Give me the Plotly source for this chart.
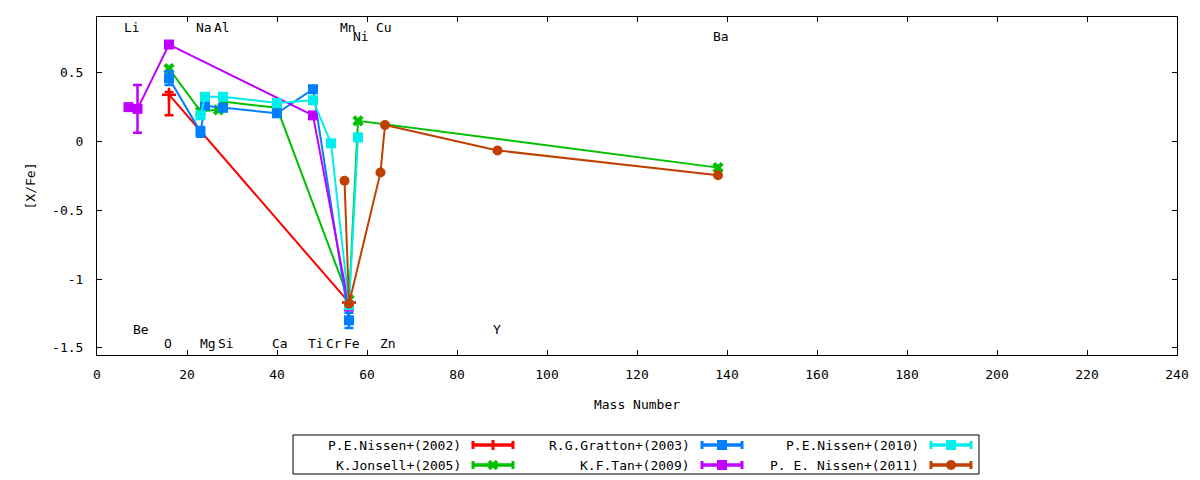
import plotly.graph_objects as go

# element labels (mass number of the main isotope) and the row they sit on
elem_names = ["Li", "Be", "O", "Na", "Mg", "Al", "Si", "Ca", "Ti", "Cr", "Mn", "Fe", "Ni", "Cu", "Zn", "Y", "Ba"]
elem_mass = [7, 9, 16, 23, 24, 27, 28, 40, 48, 52, 55, 56, 58, 63, 64, 89, 138]
elem_row_y = [0.83, -1.37, -1.47, 0.83, -1.47, 0.83, -1.47, -1.47, -1.47, -1.47, 0.83, -1.47, 0.76, 0.83, -1.47, -1.37, 0.76]

# P.E.Nissen+(2002)
nissen02_x = [16, 56]
nissen02_y = [0.34, -1.17]
nissen02_eplus = [0.02, 0]
nissen02_eminus = [0.15, 0]

# K.Jonsell+(2005)
jonsell05_x = [16, 23, 27, 28, 40, 56, 58, 138]
jonsell05_y = [0.53, 0.22, 0.23, 0.29, 0.245, -1.15, 0.15, -0.19]

# R.G.Gratton+(2003)
gratton03_x = [16, 23, 24, 28, 40, 48, 56]
gratton03_y = [0.46, 0.07, 0.26, 0.245, 0.205, 0.38, -1.30]
gratton03_err = [0.05, 0.035, 0, 0, 0, 0, 0.055]

# K.F.Tan+(2009)
tan09_x = [7, 9, 16, 48, 56]
tan09_y = [0.25, 0.237, 0.705, 0.19, -1.20]
tan09_err = [0, 0.173, 0, 0, 0]

# P.E.Nissen+(2010)
nissen10_x = [23, 24, 28, 40, 48, 52, 56, 58]
nissen10_y = [0.19, 0.325, 0.325, 0.28, 0.30, -0.013, -1.19, 0.03]

# P. E. Nissen+(2011)
nissen11_x = [55, 56, 63, 64, 89, 138]
nissen11_y = [-0.285, -1.18, -0.225, 0.12, -0.065, -0.245]

y_tick_vals = [-1.5, -1, -0.5, 0, 0.5]
y_tick_text = ["-1.5", "-1", "-0.5", "0", "0.5"]

FONT = "DejaVu Sans Mono"
RED, GREEN, BLUE, PURPLE, CYAN, BROWN = "#ff0000", "#00c000", "#0080ff", "#c000ff", "#00eeee", "#c04000"

fig = go.Figure()


def err(arr, color, minus=None):
    d = dict(type="data", array=arr, color=color, thickness=2.5, width=4.5, visible=True)
    if minus is not None:
        d["symmetric"] = False
        d["arrayminus"] = minus
    return d


fig.add_trace(go.Scatter(x=nissen02_x, y=nissen02_y, mode="lines+markers",
                         line=dict(color=RED, width=2),
                         marker=dict(symbol="cross-thin", size=10, line=dict(color=RED, width=2.5)),
                         error_y=err(nissen02_eplus, RED, nissen02_eminus)))
fig.add_trace(go.Scatter(x=jonsell05_x, y=jonsell05_y, mode="lines+markers",
                         line=dict(color=GREEN, width=2),
                         marker=dict(symbol="x", size=10, color=GREEN)))
fig.add_trace(go.Scatter(x=gratton03_x, y=gratton03_y, mode="lines+markers",
                         line=dict(color=BLUE, width=2),
                         marker=dict(symbol="square", size=10, color=BLUE),
                         error_y=err(gratton03_err, BLUE)))
fig.add_trace(go.Scatter(x=tan09_x, y=tan09_y, mode="lines+markers",
                         line=dict(color=PURPLE, width=2),
                         marker=dict(symbol="square", size=10, color=PURPLE),
                         error_y=err(tan09_err, PURPLE)))
fig.add_trace(go.Scatter(x=nissen10_x, y=nissen10_y, mode="lines+markers",
                         line=dict(color=CYAN, width=2),
                         marker=dict(symbol="square", size=10, color=CYAN)))
fig.add_trace(go.Scatter(x=nissen11_x, y=nissen11_y, mode="lines+markers",
                         line=dict(color=BROWN, width=2),
                         marker=dict(symbol="circle", size=10, color=BROWN)))

# element name labels
for name, m, yy in zip(elem_names, elem_mass, elem_row_y):
    fig.add_annotation(x=m, y=yy, text=name, showarrow=False, xanchor="left", yanchor="middle",
                       xshift=-7, font=dict(family=FONT, size=13, color="black"))

# page has an 8px body margin, so the figure box starts at (8, 8)
OFF = 8
L, R, T, B = 97, 1177, 17, 355  # plot area in window pixels


def px(p):
    return (p - L) / (R - L)


def py(p):
    return (B - p) / (B - T)


key_names = ["P.E.Nissen+(2002)", "K.Jonsell+(2005)", "R.G.Gratton+(2003)",
             "K.F.Tan+(2009)", "P.E.Nissen+(2010)", "P. E. Nissen+(2011)"]
key_colors = [RED, GREEN, BLUE, PURPLE, CYAN, BROWN]
key_marks = ["plus", "x", "square", "square", "square", "circle"]

shapes = [dict(type="rect", xref="paper", yref="paper", x0=px(293), x1=px(979), y0=py(435), y1=py(474),
               line=dict(color="black", width=1), fillcolor="rgba(0,0,0,0)")]
for i, (nm, col, mk) in enumerate(zip(key_names, key_colors, key_marks)):
    c, r = i // 2, i % 2
    ty = 445 + 20 * r
    tx = 463 + 229 * c
    s0, s1 = tx + 9, tx + 51
    mid = (s0 + s1) / 2
    fig.add_annotation(xref="paper", yref="paper", x=px(tx), y=py(ty), text=nm, showarrow=False,
                       xanchor="right", yanchor="middle", font=dict(family=FONT, size=13, color="black"))
    ln = dict(color=col, width=3.5)
    shapes.append(dict(type="line", xref="paper", yref="paper", x0=px(s0), x1=px(s1), y0=py(ty), y1=py(ty), line=ln))
    for sx in (s0 + 1, s1 - 1):
        shapes.append(dict(type="line", xref="paper", yref="paper", x0=px(sx), x1=px(sx),
                           y0=py(ty - 4), y1=py(ty + 4), line=dict(color=col, width=3)))
    if mk == "plus":
        shapes.append(dict(type="line", xref="paper", yref="paper", x0=px(mid), x1=px(mid),
                           y0=py(ty - 5), y1=py(ty + 5), line=dict(color=col, width=3)))
    elif mk == "x":
        for d in (1, -1):
            shapes.append(dict(type="line", xref="paper", yref="paper", x0=px(mid - 4), x1=px(mid + 4),
                               y0=py(ty - 4 * d), y1=py(ty + 4 * d), line=dict(color=col, width=3.5)))
    else:
        shapes.append(dict(type="rect" if mk == "square" else "circle", xref="paper", yref="paper",
                           x0=px(mid - 5), x1=px(mid + 5), y0=py(ty - 5), y1=py(ty + 5),
                           line=dict(color=col, width=0), fillcolor=col))

axis_common = dict(showline=True, linecolor="black", linewidth=1, mirror="allticks", ticks="inside",
                   ticklen=5, tickcolor="black", showgrid=False, zeroline=False,
                   tickfont=dict(family=FONT, size=13, color="black"))

W, H = 1200, 480
fig.update_layout(
    width=W, height=H,
    margin=dict(l=L - OFF, r=W + OFF - R, t=T - OFF, b=H + OFF - B),
    paper_bgcolor="white", plot_bgcolor="white",
    showlegend=False,
    font=dict(family=FONT, size=13, color="black"),
    shapes=shapes,
    xaxis=dict(range=[0, 240], tickmode="linear", tick0=0, dtick=20, ticklabelstandoff=7,
               title=dict(text="Mass Number", standoff=19, font=dict(family=FONT, size=13)), **axis_common),
    yaxis=dict(range=[-1.552, 0.905], tickvals=y_tick_vals, ticktext=y_tick_text, ticklabelstandoff=10,
               title=dict(text="[X/Fe]", standoff=13, font=dict(family=FONT, size=13)), **axis_common),
)

fig.write_html("out.html")
